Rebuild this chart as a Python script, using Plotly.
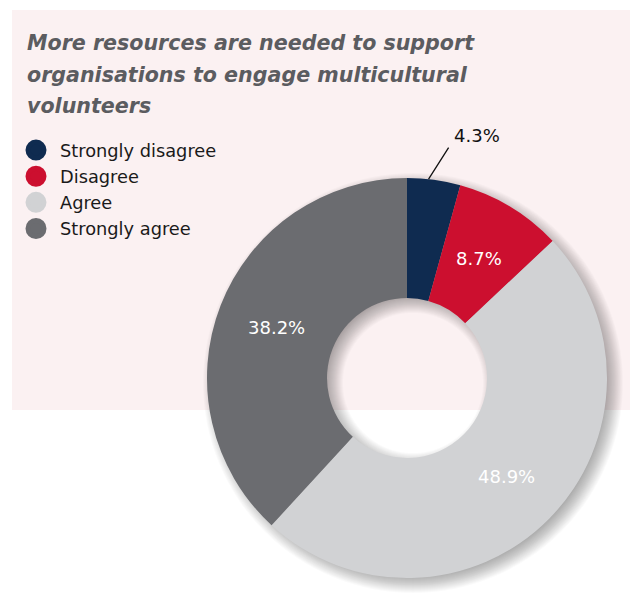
import math
import plotly.graph_objects as go

# Survey responses
categories = ["Strongly disagree", "Disagree", "Agree", "Strongly agree"]
shares = [4.3, 8.7, 48.9, 38.2]
colors = ["#0F2B50", "#CC0F2F", "#D1D2D4", "#6B6C70"]
title_lines = [
    "More resources are needed to support",
    "organisations to engage multicultural",
    "volunteers",
]

W, H = 630, 593
FONT = "DejaVu Sans"

# Donut geometry in pixels
CX, CY = 407, 378
R_OUT, R_IN = 200, 80


def ring_domain(cx, cy, r):
    return dict(
        x=[max(0.0, (cx - r) / W), min(1.0, (cx + r) / W)],
        y=[max(0.0, 1 - (cy + r) / H), min(1.0, 1 - (cy - r) / H)],
    )


def to_paper(px, py):
    return px / W, 1 - py / H


fig = go.Figure()

# Soft drop shadow built from stacked translucent rings
DX, DY = 6, 5
for s in range(-8, 11):
    ro = R_OUT + s
    ri = max(R_IN - s, 1)
    fig.add_trace(go.Pie(
        values=[1],
        domain=ring_domain(CX + DX, CY + DY, ro),
        hole=ri / ro,
        marker=dict(colors=["rgba(0,0,0,0.018)"], line=dict(width=0)),
        textinfo="none",
        hoverinfo="skip",
        showlegend=False,
        sort=False,
    ))

# Main donut
fig.add_trace(go.Pie(
    labels=categories,
    values=shares,
    domain=ring_domain(CX, CY, R_OUT),
    hole=R_IN / R_OUT,
    sort=False,
    direction="clockwise",
    rotation=0,
    marker=dict(colors=colors, line=dict(width=0)),
    textinfo="none",
    showlegend=False,
))

# Legend entries with round swatches
for name, c in zip(categories, colors):
    fig.add_trace(go.Scatter(
        x=[None], y=[None], mode="markers", name=name,
        marker=dict(symbol="circle", size=16, color=c, line=dict(color=c, width=5)),
    ))

# Percentage labels at the middle of each slice
total = sum(shares)
texts = [f"{v}%" for v in shares]
start = 0.0
for i, v in enumerate(shares):
    mid = (start + v / 2) / total * 2 * math.pi
    start += v
    if i == 0:
        # smallest slice: label outside with a leader line
        ang = mid * 0.8
        tip_x = CX + R_OUT * math.sin(ang)
        tip_y = CY - R_OUT * math.cos(ang)
        x, y = to_paper(tip_x, tip_y)
        fig.add_annotation(
            x=x, y=y, xref="paper", yref="paper",
            ax=21, ay=-33, axref="pixel", ayref="pixel",
            text="", showarrow=True, arrowhead=0, arrowwidth=1.3,
            arrowcolor="#111111", standoff=0, startstandoff=0,
        )
        x, y = to_paper(tip_x + 48, tip_y - 44)
        fig.add_annotation(
            x=x, y=y, xref="paper", yref="paper",
            xanchor="center", yanchor="middle",
            text=texts[i], showarrow=False,
            font=dict(family=FONT, size=18, color="#111111"),
        )
    else:
        rm = (R_OUT + R_IN) / 2
        x, y = to_paper(CX + rm * math.sin(mid), CY - rm * math.cos(mid))
        fig.add_annotation(
            x=x, y=y, xref="paper", yref="paper",
            xanchor="center", yanchor="middle",
            text=texts[i], showarrow=False,
            font=dict(family=FONT, size=18, color="white"),
        )

# Background panel
fig.add_shape(
    type="rect", xref="paper", yref="paper",
    x0=12 / W, x1=1, y0=1 - 410 / H, y1=1 - 10 / H,
    fillcolor="#FBF1F2", line=dict(width=0), layer="below",
)

# Title, one annotation per line
for i, line in enumerate(title_lines):
    fig.add_annotation(
        x=25 / W, y=1 - (43 + 31.5 * i) / H, xref="paper", yref="paper",
        xanchor="left", yanchor="middle", showarrow=False,
        text=line,
        font=dict(family=FONT, size=20.6, color="#5B5C60", weight="bold", style="italic"),
    )

fig.update_layout(
    width=W, height=H,
    margin=dict(l=0, r=0, t=0, b=0),
    paper_bgcolor="white",
    plot_bgcolor="rgba(0,0,0,0)",
    xaxis=dict(visible=False),
    yaxis=dict(visible=False),
    legend=dict(
        x=12 / W, y=1 - 132 / H, xanchor="left", yanchor="top",
        bgcolor="rgba(0,0,0,0)", itemwidth=38,
        font=dict(family=FONT, size=17.8, color="#1A1A1A"),
    ),
)

fig.write_html("out.html")
